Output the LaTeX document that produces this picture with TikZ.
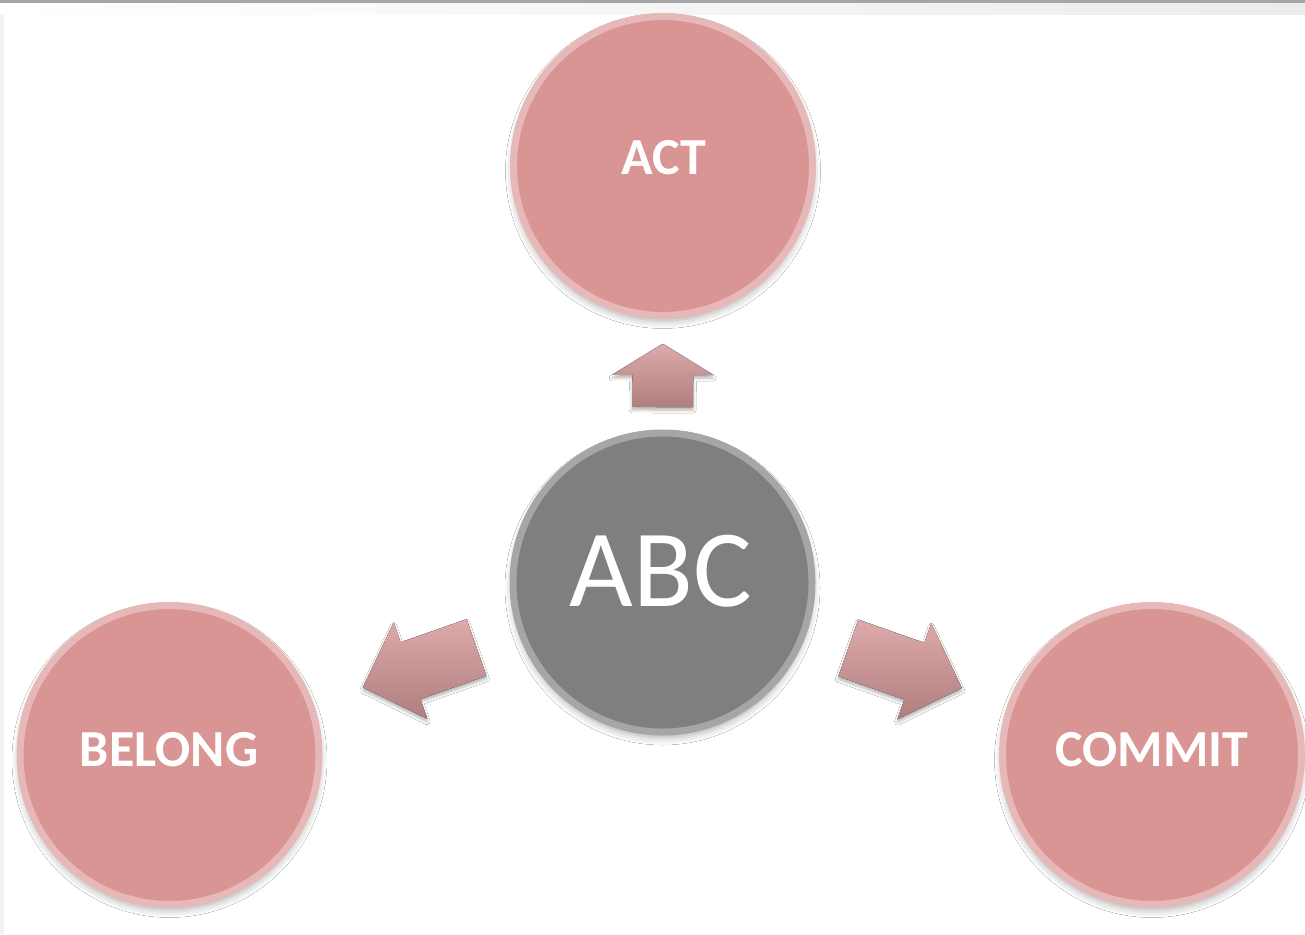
\documentclass[tikz,border=0pt]{standalone}
\usepackage{fontspec}
\setmainfont{Carlito}
\usetikzlibrary{calc,shadows.blur}

\definecolor{rosefill}{HTML}{D99594}
\definecolor{rosering}{HTML}{E6B9B8}
\definecolor{slatefill}{HTML}{7F7F7F}
\definecolor{slatering}{HTML}{A6A6A6}
\definecolor{arrowtop}{HTML}{DEAAAA}
\definecolor{arrowbot}{HTML}{AF7E7F}
\definecolor{edgeline}{HTML}{A6A6A6}
\definecolor{edgeband}{HTML}{ECECEC}
\definecolor{edgestrip}{HTML}{F3F3F3}

% Block arrow along the line between two nodes:
% #1 from, #2 to, #3 back end, #4 head base, #5 tip (distances from #1),
% #6 shaft half width, #7 head half width
\newcommand\arrowpath[7]{%
  \fill[blockarrow]
    ($(#1.center)!#3!(#2.center)!#6!90:(#2.center)$) --
    ($(#1.center)!#4!(#2.center)!#6!90:(#2.center)$) --
    ($(#1.center)!#4!(#2.center)!#7!90:(#2.center)$) --
    ($(#1.center)!#5!(#2.center)$) --
    ($(#1.center)!#4!(#2.center)!#7!-90:(#2.center)$) --
    ($(#1.center)!#4!(#2.center)!#6!-90:(#2.center)$) --
    ($(#1.center)!#3!(#2.center)!#6!-90:(#2.center)$) -- cycle;}

\begin{document}
\begin{tikzpicture}[x=1pt,y=-1pt,
  bubble/.style={circle, minimum size=299pt, inner sep=0pt, line width=7pt,
    blur shadow={shadow xshift=0pt, shadow yshift=-5pt, shadow scale=1.0,
      shadow blur radius=8pt, shadow opacity=35}},
  rosebubble/.style={bubble, fill=rosefill, draw=rosering},
  hubbubble/.style={bubble, fill=slatefill, draw=slatering},
  caption/.style={text=white, inner sep=0pt,
    font=\fontsize{52}{52}\selectfont\bfseries},
  hubcaption/.style={text=white, inner sep=0pt,
    font=\fontsize{110}{110}\selectfont},
  blockarrow/.style={top color=arrowtop, bottom color=arrowbot,
    blur shadow={shadow xshift=0pt, shadow yshift=-3pt,
      shadow blur radius=3pt, shadow opacity=30}}
]
  % page and frame edges
  \useasboundingbox (0,0) rectangle (1305,934);
  \fill[white] (0,0) rectangle (1305,934);
  \shade[left color=white, right color=edgeband] (0,3) rectangle (1305,15);
  \fill[edgestrip] (0,15) rectangle (4,934);
  \fill[edgeline] (0,0) rectangle (1305,3);

  % circles
  \node[hubbubble]  (abc)    at (662.5,582.5) {};
  \node[rosebubble] (act)    at (663,166)     {};
  \node[rosebubble] (belong) at (169.5,755)   {};
  \node[rosebubble] (commit) at (1152,755)    {};

  % captions
  \node[hubcaption] (abctext)    at (661,571)   {ABC};
  \node[caption]    (acttext)    at (664,158)   {ACT};
  \node[caption]    (belongtext) at (169,750)   {BELONG};
  \node[caption]    (committext) at (1152,750)  {COMMIT};

  % arrows from the hub
  \arrowpath{abc}{act}{175.5pt}{207.5pt}{238.5pt}{30.5pt}{50.5pt}
  \arrowpath{abc}{belong}{197pt}{267pt}{317.5pt}{30pt}{51pt}
  \arrowpath{abc}{commit}{197pt}{267pt}{317.5pt}{30pt}{51pt}
\end{tikzpicture}
\end{document}
